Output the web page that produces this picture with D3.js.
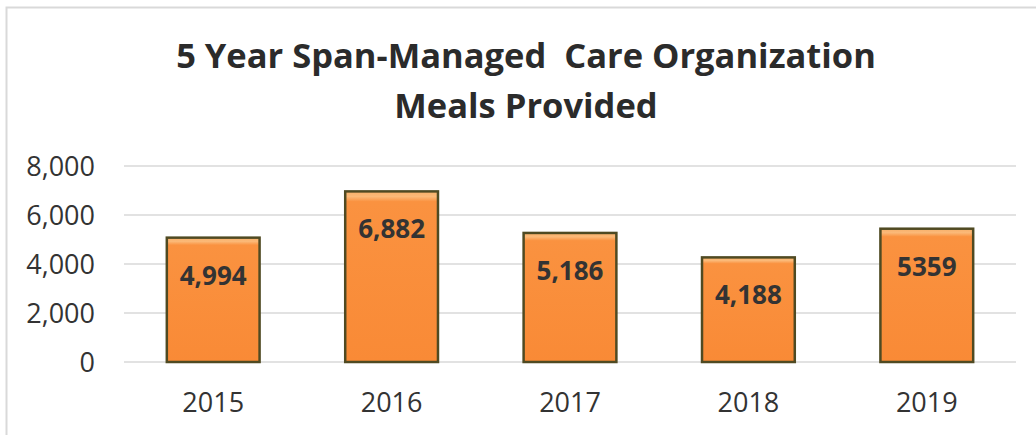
<!DOCTYPE html>
<html>
<head>
<meta charset="utf-8">
<script src="https://cdn.jsdelivr.net/npm/d3@7"></script>
<style>
  body { margin: 0; background: #fff; }
  svg { display: block; font-family: "Open Sans", sans-serif; }
</style>
</head>
<body>
<div id="chart"></div>
<script>
// data
var years = ['2015', '2016', '2017', '2018', '2019'];
var meals = [4994, 6882, 5186, 4188, 5359];
var mealLabels = ['4,994', '6,882', '5,186', '4,188', '5359'];
var yTicks = [0, 2000, 4000, 6000, 8000];
var titleLines = ['5 Year Span-Managed\u00a0 Care Organization', 'Meals Provided'];

var width = 1036,
    height = 435,
    margin = { left: 124, right: 20, top: 166, bottom: 73 };

var svg = d3.select('#chart').append('svg')
    .attr('width', width)
    .attr('height', height);

// frame
svg.append('rect')
    .attr('x', 6.5).attr('y', 7.5)
    .attr('width', width + 10).attr('height', height + 10)
    .attr('fill', 'none')
    .attr('stroke', '#d9d9d9')
    .attr('stroke-width', 2);

var defs = svg.append('defs');
var grad = defs.append('linearGradient')
    .attr('id', 'barFill')
    .attr('x1', 0).attr('y1', 0).attr('x2', 0).attr('y2', 1);
grad.append('stop').attr('offset', '0%').attr('stop-color', '#f7b06a');
grad.append('stop').attr('offset', '3%').attr('stop-color', '#fbb978');
grad.append('stop').attr('offset', '6%').attr('stop-color', '#fa9240');
grad.append('stop').attr('offset', '100%').attr('stop-color', '#f98a36');

var chartW = width - margin.left - margin.right;
var chartH = height - margin.top - margin.bottom;

var x = d3.scaleBand()
    .domain(years)
    .range([0, chartW])
    .paddingInner(0.48)
    .paddingOuter(0.24);

var y = d3.scaleLinear()
    .domain([0, 8000])
    .range([chartH, 0]);

var g = svg.append('g')
    .attr('transform', 'translate(' + margin.left + ',' + margin.top + ')');

// title
svg.append('g').selectAll('text')
    .data(titleLines)
    .enter().append('text')
    .attr('x', 526)
    .attr('y', function(d, i) { return 68 + i * 50; })
    .attr('text-anchor', 'middle')
    .attr('font-size', 34.5)
    .attr('font-weight', 'bold')
    .attr('fill', '#2b2b2b')
    .text(function(d) { return d; });

// gridlines
g.selectAll('.grid')
    .data(yTicks)
    .enter().append('line')
    .attr('x1', 0).attr('x2', chartW)
    .attr('y1', function(d) { return y(d); })
    .attr('y2', function(d) { return y(d); })
    .attr('stroke', '#d9d9d9')
    .attr('stroke-width', 1.5);

// y axis labels
var yAxis = d3.axisLeft(y)
    .tickValues(yTicks)
    .tickFormat(d3.format(','))
    .tickSize(0)
    .tickPadding(29);
g.append('g').call(yAxis)
    .call(function(s) { s.select('.domain').remove(); })
    .selectAll('text')
    .attr('font-size', 27)
    .attr('font-family', '"Open Sans", sans-serif')
    .attr('fill', '#333')
    .attr('dy', '0.36em');

// x axis labels
var xAxis = d3.axisBottom(x).tickSize(0).tickPadding(31);
g.append('g')
    .attr('transform', 'translate(0,' + chartH + ')')
    .call(xAxis)
    .call(function(s) { s.select('.domain').remove(); })
    .selectAll('text')
    .attr('font-size', 27)
    .attr('font-family', '"Open Sans", sans-serif')
    .attr('fill', '#333');

var rows = years.map(function(d, i) {
    return { year: d, value: meals[i], label: mealLabels[i] };
});

// bars
g.selectAll('.bar')
    .data(rows)
    .enter().append('rect')
    .attr('class', 'bar')
    .attr('x', function(d) { return x(d.year); })
    .attr('y', function(d) { return y(d.value) - 2; })
    .attr('width', x.bandwidth())
    .attr('height', function(d) { return chartH - y(d.value) + 2; })
    .attr('fill', 'url(#barFill)')
    .attr('stroke', '#4f4a22')
    .attr('stroke-width', 2.5);

// value labels
g.selectAll('.val')
    .data(rows)
    .enter().append('text')
    .attr('x', function(d) { return x(d.year) + x.bandwidth() / 2; })
    .attr('y', function(d) { return y(d.value) + 45; })
    .attr('text-anchor', 'middle')
    .attr('font-size', 26)
    .attr('font-weight', 'bold')
    .attr('fill', '#333')
    .text(function(d) { return d.label; });
</script>
</body>
</html>
